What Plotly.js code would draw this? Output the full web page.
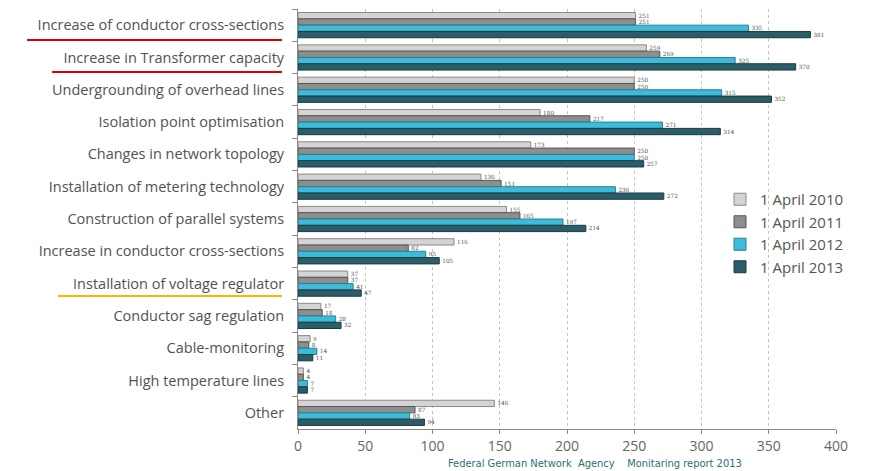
<!DOCTYPE html>
<html><head><meta charset="utf-8">
<script src="https://cdn.plot.ly/plotly-3.0.1.min.js"></script>
<style>html,body{margin:0;padding:0;background:#fff}</style>
</head><body>
<div id="chart" style="width:879px;height:471px"></div>
<script>
const categories = [
  "Increase of conductor cross-sections",
  "Increase in Transformer capacity",
  "Undergrounding of overhead lines",
  "Isolation point optimisation",
  "Changes in network topology",
  "Installation of metering technology",
  "Construction of parallel systems",
  "Increase in conductor cross-sections",
  "Installation of voltage regulator",
  "Conductor sag regulation",
  "Cable-monitoring",
  "High temperature lines",
  "Other"
];
const seriesNames = ["1 April 2010", "1 April 2011", "1 April 2012", "1 April 2013"];
const values2010 = [251, 259, 250, 180, 173, 136, 155, 116, 37, 17, 9, 4, 146];
const values2011 = [251, 269, 250, 217, 250, 151, 165, 82, 37, 18, 8, 4, 87];
const values2012 = [335, 325, 315, 271, 250, 236, 197, 95, 41, 28, 14, 7, 83];
const values2013 = [381, 370, 352, 314, 257, 272, 214, 105, 47, 32, 11, 7, 94];
const xTicks = [0, 50, 100, 150, 200, 250, 300, 350, 400];

const allValues = [values2010, values2011, values2012, values2013];
const fills = ["#d4d4d4", "#8e8e8e", "#3cbcd8", "#2b5d69"];
const outlines = ["#8a8a8a", "#555555", "#2a7f93", "#1a3a42"];

const traces = allValues.map((vals, i) => ({
  type: "bar",
  orientation: "h",
  name: seriesNames[i],
  legendgroup: "g" + i,
  y: categories,
  x: vals,
  text: vals.map(String),
  textposition: "outside",
  cliponaxis: false,
  textfont: {family: "DejaVu Serif, serif", size: 10, color: "#555"},
  outsidetextfont: {family: "DejaVu Serif, serif", size: 10, color: "#555"},
  marker: {color: fills[i], line: {color: outlines[i], width: 1}},
  hoverinfo: "x+name"
}));

const L = 298, R = 43, T = 9, B = 42, W = 879, H = 471;
const pw = W - L - R, ph = H - T - B;
const px = v => (v - L) / pw;
const py = v => (H - B - v) / ph;

const layout = {
  width: W, height: H,
  margin: {l: L, r: R, t: T, b: B},
  paper_bgcolor: "#fff", plot_bgcolor: "#fff",
  barmode: "group",
  bargap: 0.22,
  bargroupgap: 0,
  font: {family: "Open Sans, Lato, sans-serif", size: 13, color: "#444"},
  showlegend: true,
  legend: {
    x: px(720), y: py(183), xanchor: "left", yanchor: "top",
    bgcolor: "rgba(0,0,0,0)",
    font: {size: 15, color: "#555"},
    itemwidth: 30, tracegroupgap: 0
  },
  xaxis: {
    range: [0, 400],
    tickvals: xTicks,
    ticktext: xTicks.map(String),
    showgrid: true, gridcolor: "#c4c4c4", griddash: "dot", gridwidth: 1,
    zeroline: false,
    showline: true, linecolor: "#888", linewidth: 1,
    ticks: "outside", ticklen: 4, tickcolor: "#888",
    tickfont: {size: 14, color: "#666"},
    fixedrange: true
  },
  yaxis: {
    type: "category",
    autorange: "reversed",
    showline: true, linecolor: "#888", linewidth: 1,
    ticks: "outside", ticklen: 5, tickcolor: "#888",
    tickson: "boundaries",
    tickfont: {size: 14.5, color: "#525252"},
    showgrid: false,
    ticklabelstandoff: 10,
    fixedrange: true
  },
  shapes: [
    {type: "line", xref: "paper", yref: "paper", x0: px(27), x1: px(282), y0: py(40), y1: py(40), line: {color: "#e00000", width: 2}},
    {type: "line", xref: "paper", yref: "paper", x0: px(52), x1: px(282), y0: py(72), y1: py(72), line: {color: "#e00000", width: 2}},
    {type: "line", xref: "paper", yref: "paper", x0: px(58), x1: px(282), y0: py(296), y1: py(296), line: {color: "#f5b800", width: 2}}
  ],
  annotations: [
    {text: "Federal German Network &nbsp;Agency &nbsp;&nbsp;&nbsp;Monitaring report 2013", xref: "paper", yref: "paper",
     x: px(595), y: py(463), xanchor: "center", yanchor: "middle", showarrow: false,
     font: {family: "DejaVu Sans Condensed, sans-serif", size: 11, color: "#2a6f7a"}}
  ]
};

Plotly.newPlot("chart", traces, layout, {displayModeBar: false, staticPlot: true});
</script>
</body></html>
